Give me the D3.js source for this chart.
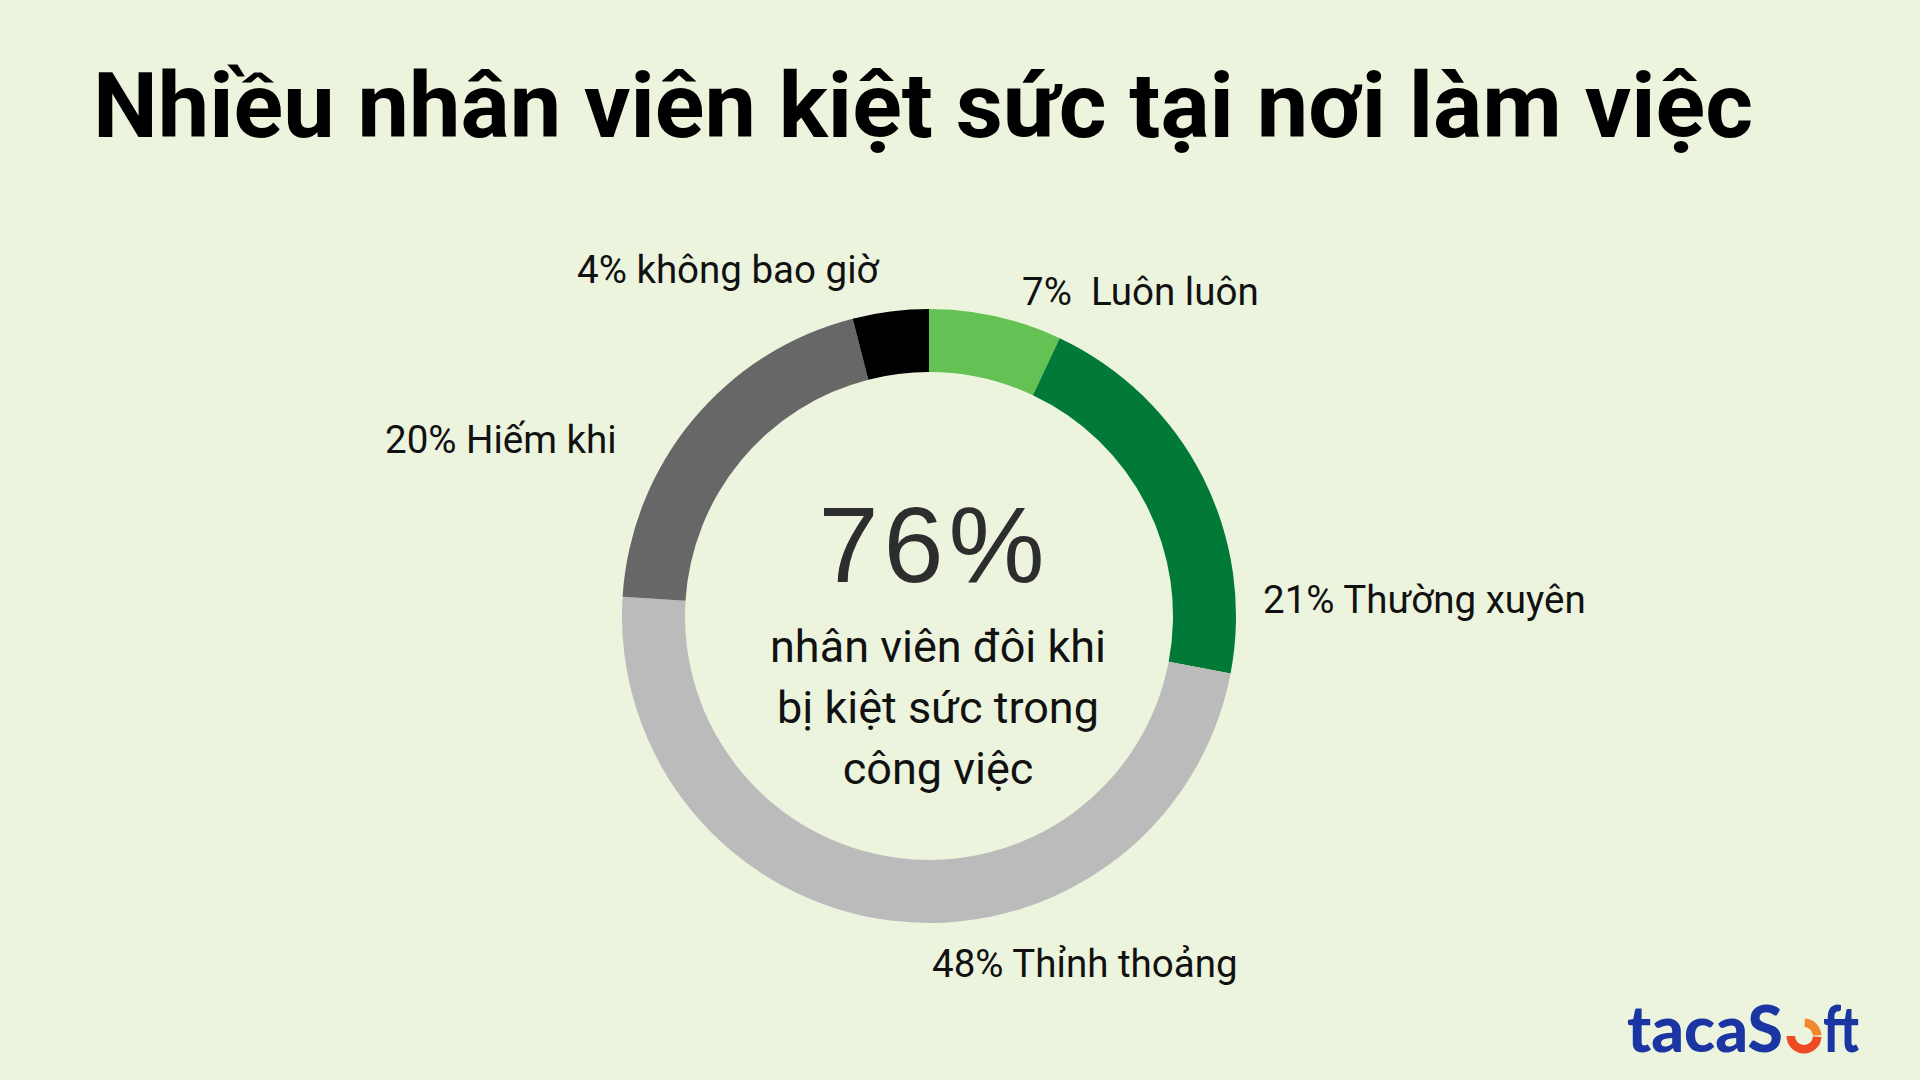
<!DOCTYPE html>
<html><head><meta charset="utf-8">
<script src="https://cdn.jsdelivr.net/npm/d3@7"></script>
<style>
html,body{margin:0;padding:0;background:#ecf4de;}
svg{display:block;}
</style></head>
<body>
<svg id="chart" width="1920" height="1080"></svg>
<script>
const title = "Nhiều nhân viên kiệt sức tại nơi làm việc";
const categories = ["Luôn luôn", "Thường xuyên", "Thỉnh thoảng", "Hiếm khi", "không bao giờ"];
const values = [7, 21, 48, 20, 4];
const labelTexts = ["7%  Luôn luôn", "21% Thường xuyên", "48% Thỉnh thoảng", "20% Hiếm khi", "4% không bao giờ"];
const colors = ["#63c253", "#007a36", "#bbbbbb", "#676767", "#000000"];
const centerValue = "76%";
const centerLines = ["nhân viên đôi khi", "bị kiệt sức trong", "công việc"];

const svg = d3.select("#chart");
svg.append("rect").attr("width",1920).attr("height",1080).attr("fill","#ecf4de");

svg.append("text").attr("x",93).attr("y",137)
  .attr("font-family","Roboto").attr("font-weight",700).attr("font-size",90)
  .attr("fill","#000").attr("textLength",1660).attr("lengthAdjust","spacingAndGlyphs")
  .text(title);

const cx = 929, cy = 616, rOut = 307, rIn = 244;
const pie = d3.pie().sort(null).value(d => d);
const arcs = pie(values);
const arc = d3.arc().innerRadius(rIn).outerRadius(rOut);
const g = svg.append("g").attr("transform",`translate(${cx},${cy})`);
g.selectAll("path").data(arcs).join("path")
  .attr("d", arc).attr("fill",(d,i)=>colors[i]);

// label positions (anchor start x, baseline y)
const labelPos = [[1022,305],[1263,613],[932,977],[385,453],[577,283]];
svg.selectAll("text.lbl").data(labelTexts).join("text").attr("class","lbl")
  .attr("x",(d,i)=>labelPos[i][0]).attr("y",(d,i)=>labelPos[i][1])
  .attr("font-family","Roboto").attr("font-size",38.5).attr("fill","#111")
  .style("white-space","pre").attr("xml:space","preserve")
  .text(d=>d);

svg.append("text").attr("x",934).attr("y",582).attr("text-anchor","middle")
  .attr("font-family","Liberation Sans, Arial").attr("font-size",108)
  .attr("letter-spacing",5)
  .attr("fill","#2d2d2d").text(centerValue);

svg.selectAll("text.cl").data(centerLines).join("text").attr("class","cl")
  .attr("x",938).attr("y",(d,i)=>662+i*61).attr("text-anchor","middle")
  .attr("font-family","Roboto").attr("font-size",45).attr("fill","#111")
  .text(d=>d);

// logo
const logo = svg.append("g");
logo.append("text").attr("x",1627).attr("y",1052)
  .attr("font-family","Lato").attr("font-weight",900).attr("font-size",64)
  .attr("fill","#1b36a3").attr("textLength",156).attr("lengthAdjust","spacingAndGlyphs").text("tacaS");
logo.append("text").attr("x",1823).attr("y",1052)
  .attr("font-family","Lato").attr("font-weight",900).attr("font-size",64)
  .attr("fill","#1b36a3").attr("textLength",36).attr("lengthAdjust","spacingAndGlyphs").text("ft");
const ringArc = d3.arc().innerRadius(9).outerRadius(17.5);
const lg = logo.append("g").attr("transform","translate(1804,1036)");
lg.append("path").attr("d",ringArc({startAngle:0.05,endAngle:Math.PI/2-0.05})).attr("fill","#f0892e");
lg.append("path").attr("d",ringArc({startAngle:Math.PI/2+0.05,endAngle:Math.PI*1.5})).attr("fill","#ee4b25");
</script>
</body></html>
